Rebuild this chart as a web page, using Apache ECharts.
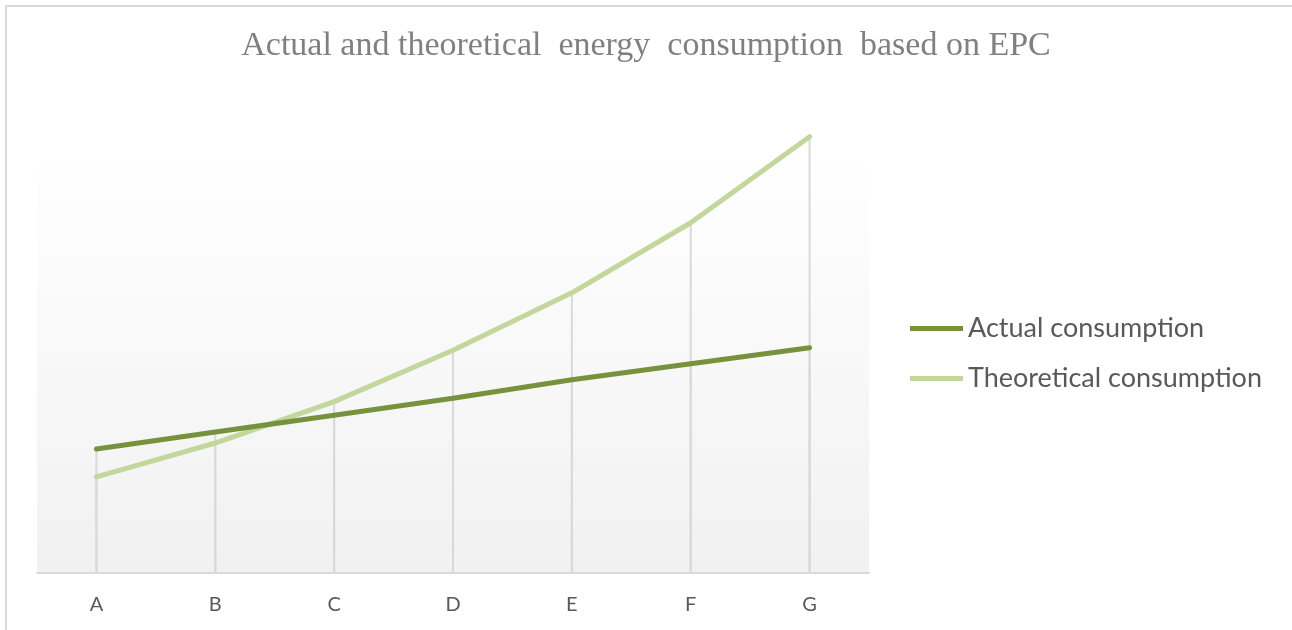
<!DOCTYPE html>
<html>
<head>
<meta charset="utf-8">
<script src="https://cdn.jsdelivr.net/npm/echarts@6/dist/echarts.min.js"></script>
<style>
  html, body { margin: 0; padding: 0; background: #ffffff; }
  #frame { position: absolute; left: 5px; top: 5px; width: 1287px; height: 625px;
           border-top: 2px solid #d9d9d9; border-left: 2px solid #d9d9d9; box-sizing: border-box; }
  #chart { position: absolute; left: 0; top: 0; width: 1292px; height: 630px; }
</style>
</head>
<body>
<div id="frame"></div>
<div id="chart"></div>
<script>
const titleText = 'Actual and theoretical  energy  consumption  based on EPC';
const categories = ['A', 'B', 'C', 'D', 'E', 'F', 'G'];
const actualName = 'Actual consumption';
const theoreticalName = 'Theoretical consumption';
const actualValues = [73.5, 83.5, 93.5, 103.5, 114.5, 124, 133.5];
const theoreticalValues = [57, 77, 101.5, 132, 166, 207.5, 258.5];

const chart = echarts.init(document.getElementById('chart'), null, { renderer: 'canvas' });

chart.setOption({
  animation: false,
  backgroundColor: 'transparent',
  title: {
    text: titleText,
    left: 'center',
    top: 29,
    padding: 0,
    textStyle: {
      fontFamily: 'Liberation Serif',
      fontWeight: 'normal',
      fontSize: 34,
      color: '#808080'
    }
  },
  legend: {
    data: [actualName, theoreticalName],
    orient: 'vertical',
    left: 910,
    top: 315,
    padding: 0,
    itemWidth: 53,
    itemHeight: 5,
    itemGap: 23,
    icon: 'rect',
    textStyle: {
      fontFamily: 'Lato',
      fontSize: 27,
      color: '#595959'
    }
  },
  grid: {
    left: 37,
    right: 423,
    top: 151,
    bottom: 57,
    show: true,
    borderWidth: 0,
    backgroundColor: new echarts.graphic.LinearGradient(0, 0, 0, 1, [
      { offset: 0, color: '#ffffff' },
      { offset: 1, color: '#f1f1f1' }
    ]),
    containLabel: false
  },
  xAxis: {
    type: 'category',
    data: categories,
    boundaryGap: true,
    axisLine: { show: true, lineStyle: { color: '#d9d9d9', width: 2 } },
    axisTick: { show: false },
    axisLabel: {
      fontFamily: 'Lato',
      fontSize: 20,
      color: '#595959',
      margin: 22
    },
    splitLine: { show: false }
  },
  yAxis: {
    type: 'value',
    min: 0,
    max: 250,
    show: false,
    splitLine: { show: false }
  },
  series: [
    {
      name: 'dropA',
      type: 'bar',
      data: actualValues,
      barWidth: 2,
      barGap: '-100%',
      clip: false,
      itemStyle: { color: '#d9d9d9' },
      silent: true,
      z: 1
    },
    {
      name: 'dropT',
      type: 'bar',
      data: theoreticalValues,
      barWidth: 2,
      barGap: '-100%',
      clip: false,
      itemStyle: { color: '#d9d9d9' },
      silent: true,
      z: 1
    },
    {
      name: actualName,
      type: 'line',
      data: actualValues,
      symbol: 'none',
      clip: false,
      lineStyle: { color: '#76923c', width: 5, cap: 'round' },
      itemStyle: { color: '#76923c' },
      z: 4
    },
    {
      name: theoreticalName,
      type: 'line',
      data: theoreticalValues,
      symbol: 'none',
      clip: false,
      lineStyle: { color: '#c3d69b', width: 5, cap: 'round' },
      itemStyle: { color: '#c3d69b' },
      z: 3
    }
  ]
});
</script>
</body>
</html>
